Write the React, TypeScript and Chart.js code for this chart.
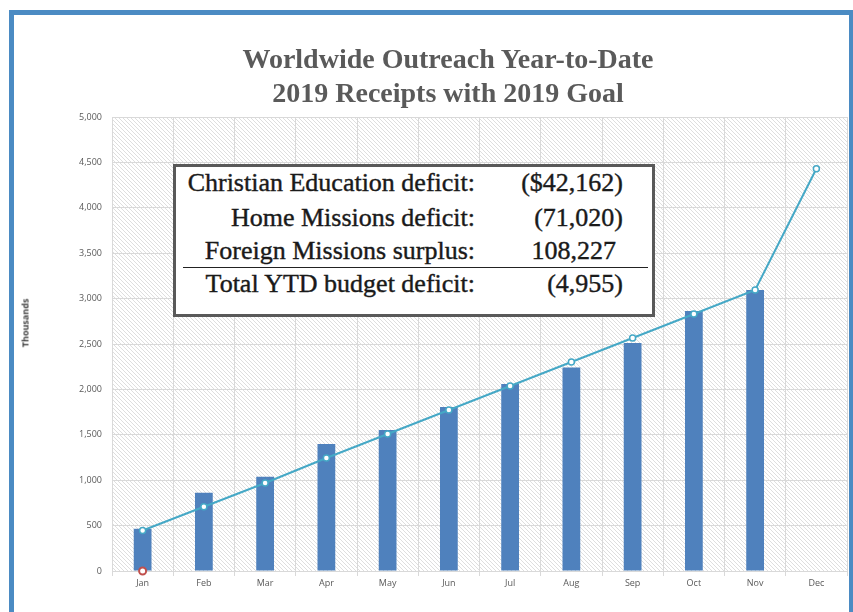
import React, { useEffect, useRef } from "react";
import Chart from "chart.js/auto";

const months = ["Jan", "Feb", "Mar", "Apr", "May", "Jun", "Jul", "Aug", "Sep", "Oct", "Nov", "Dec"];
const receipts = [465, 862, 1038, 1400, 1553, 1806, 2059, 2240, 2511, 2863, 3095, null];
const goal = [446, 708, 969, 1245, 1509, 1773, 2037, 2302, 2566, 2830, 3095, 4430];
const startMarker = [0, null, null, null, null, null, null, null, null, null, null, null];

const titleLines = ["Worldwide Outreach Year-to-Date", "2019 Receipts with 2019 Goal"];
const yAxisTitle = "Thousands";
const tableLabels = [
  "Christian Education deficit:",
  "Home Missions deficit:",
  "Foreign Missions surplus:",
  "Total YTD budget deficit:",
];
const tableValues = ["($42,162)", "(71,020)", "108,227", "(4,955)"];

const hatchPlugin = {
  id: "hatch",
  beforeDraw(chart: any) {
    const { ctx, chartArea: a } = chart;
    if (!a) return;
    ctx.save();
    ctx.beginPath();
    ctx.rect(a.left, a.top, a.right - a.left, a.bottom - a.top);
    ctx.clip();
    ctx.fillStyle = "#ffffff";
    ctx.fillRect(a.left, a.top, a.right - a.left, a.bottom - a.top);
    ctx.strokeStyle = "#d6d6d6";
    ctx.lineWidth = 0.8;
    const h = a.bottom - a.top;
    ctx.beginPath();
    for (let x = a.left - h; x < a.right; x += 4) {
      ctx.moveTo(x, a.top);
      ctx.lineTo(x + h, a.bottom);
    }
    ctx.stroke();
    ctx.restore();
  },
};

export default function App() {
  const canvasRef = useRef<HTMLCanvasElement | null>(null);

  useEffect(() => {
    document.body.style.margin = "0";
    const canvas = canvasRef.current;
    if (!canvas) return;
    const chart = new Chart(canvas, {
      type: "bar",
      data: {
        labels: months,
        datasets: [
          {
            type: "line",
            label: "Start",
            data: startMarker,
            order: 1,
            clip: false,
            borderColor: "#C0504D",
            backgroundColor: "#ffffff",
            pointBackgroundColor: "#ffffff",
            pointBorderColor: "#C0504D",
            pointRadius: 3.5,
            pointBorderWidth: 2,
            showLine: false,
          } as any,
          {
            type: "line",
            label: "2019 Goal",
            data: goal,
            order: 2,
            clip: false,
            borderColor: "#45A8C6",
            borderWidth: 2,
            backgroundColor: "#ffffff",
            pointBackgroundColor: "#ffffff",
            pointBorderColor: "#45A8C6",
            pointRadius: 3,
            pointBorderWidth: 1.5,
            tension: 0,
          } as any,
          {
            type: "bar",
            label: "2019 Receipts",
            data: receipts,
            order: 3,
            backgroundColor: "#4F81BD",
            borderWidth: 0,
            barPercentage: 0.29,
            categoryPercentage: 1,
          } as any,
        ],
      },
      options: {
        responsive: false,
        animation: false,
        layout: { padding: { top: 117, left: 0, right: 5, bottom: 0 } },
        plugins: {
          legend: { display: false },
          tooltip: { enabled: false },
          title: { display: false },
        },
        scales: {
          x: {
            grid: {
              color: "#d9d9d9",
              offset: true,
              drawTicks: true,
              tickLength: 5,
            },
            border: { color: "#d9d9d9" },
            ticks: {
              color: "#595959",
              font: { family: "'Open Sans', sans-serif", size: 9 },
              padding: 2,
              maxRotation: 0,
            },
            afterFit(scale: any) {
              scale.height = 41;
            },
          },
          y: {
            min: 0,
            max: 5000,
            ticks: {
              stepSize: 500,
              color: "#595959",
              font: { family: "'Open Sans', sans-serif", size: 9 },
              padding: 10,
              callback: (v: any) => Number(v).toLocaleString("en-US"),
            },
            grid: { color: "#d9d9d9", drawTicks: false },
            border: { color: "#d9d9d9" },
            afterFit(scale: any) {
              scale.width = 112;
            },
          },
        },
      },
      plugins: [hatchPlugin],
    } as any);
    return () => chart.destroy();
  }, []);

  const rowTops = [170, 205, 238, 271];
  const valuePad = [0, 0, 7, 0];

  return (
    <div style={{ position: "relative", width: 853, height: 612, overflow: "hidden", background: "#fff" }}>
      <div
        style={{
          position: "absolute",
          left: 9,
          top: 10,
          width: 835,
          height: 700,
          border: "5px solid #4B8BC3",
        }}
      />
      <canvas
        ref={canvasRef}
        width={853}
        height={612}
        style={{ position: "absolute", left: 0, top: 0, width: 853, height: 612 }}
      />
      {titleLines.map((t, i) => (
        <div
          key={i}
          style={{
            position: "absolute",
            left: 448,
            top: i === 0 ? 45 : 79,
            transform: "translateX(-50%)",
            whiteSpace: "nowrap",
            fontFamily: "'Liberation Serif', serif",
            fontWeight: "bold",
            fontSize: 28,
            lineHeight: "28px",
            color: "#5a5a5a",
          }}
        >
          {t}
        </div>
      ))}
      <div
        style={{
          position: "absolute",
          left: 25,
          top: 323,
          transform: "translate(-50%, -50%) rotate(-90deg)",
          whiteSpace: "nowrap",
          fontFamily: "'Open Sans', sans-serif",
          fontWeight: "bold",
          fontSize: 9,
          color: "#404040",
        }}
      >
        {yAxisTitle}
      </div>
      <div
        style={{
          position: "absolute",
          left: 173,
          top: 164,
          width: 482,
          height: 153,
          boxSizing: "border-box",
          border: "3px solid #595959",
          background: "#fff",
        }}
      />
      <div style={{ position: "absolute", left: 183, top: 267, width: 465, height: 1, background: "#222" }} />
      {tableLabels.map((t, i) => (
        <div
          key={"l" + i}
          style={{
            position: "absolute",
            right: 853 - 475,
            top: rowTops[i],
            whiteSpace: "nowrap",
            fontFamily: "'Liberation Serif', serif",
            fontSize: 26,
            lineHeight: "26px",
            color: "#1a1a1a",
            textAlign: "right",
            WebkitTextStroke: "0.4px #1a1a1a",
          }}
        >
          {t}
        </div>
      ))}
      {tableValues.map((t, i) => (
        <div
          key={"v" + i}
          style={{
            position: "absolute",
            right: 853 - 623 + valuePad[i],
            top: rowTops[i],
            whiteSpace: "nowrap",
            fontFamily: "'Liberation Serif', serif",
            fontSize: 26,
            lineHeight: "26px",
            color: "#1a1a1a",
            textAlign: "right",
            WebkitTextStroke: "0.4px #1a1a1a",
          }}
        >
          {t}
        </div>
      ))}
    </div>
  );
}
